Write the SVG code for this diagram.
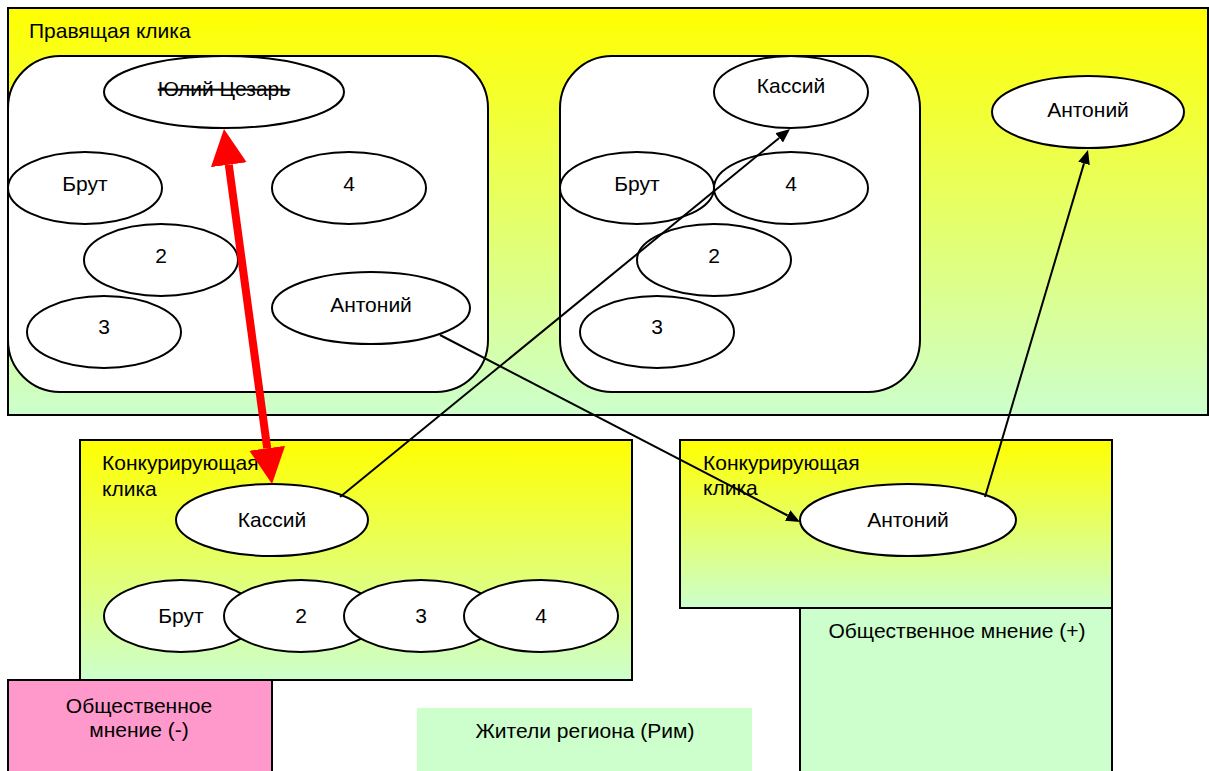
<svg xmlns="http://www.w3.org/2000/svg" width="1209" height="771" viewBox="0 0 1209 771">
<style>
text{font-family:"Liberation Sans",Arial,sans-serif;font-size:21px;fill:#000}
.c{text-anchor:middle}
.box{stroke:#000;stroke-width:2}
.ell{fill:#fff;stroke:#000;stroke-width:2}
.rr{fill:#fff;stroke:#000;stroke-width:2}
.blk{stroke:#000;stroke-width:2;fill:none}
.red{stroke:#ff0000;stroke-width:8;fill:none}
</style>
<defs>
<linearGradient id="g" x1="0" y1="0" x2="0" y2="1">
<stop offset="0" stop-color="#ffff00"/>
<stop offset="1" stop-color="#ccffcc"/>
</linearGradient>
<marker id="ra" markerUnits="userSpaceOnUse" viewBox="0 0 36 36" markerWidth="36" markerHeight="36" refX="0" refY="18" orient="auto-start-reverse">
<path d="M0,0 L36,18 L0,36 z" fill="#ff0000"/>
</marker>
<marker id="ba" markerUnits="userSpaceOnUse" viewBox="0 0 14 12" markerWidth="14" markerHeight="12" refX="0" refY="6" orient="auto">
<path d="M0,0 L14,6 L0,12 z" fill="#000"/>
</marker>
</defs>

<g id="ruling-clique">
<rect class="box" x="8" y="8" width="1200" height="407" fill="url(#g)"/>
<text x="29" y="38">Правящая клика</text>
</g>

<g id="group-left">
<rect class="rr" x="8" y="56" width="480" height="336" rx="52" ry="52"/>
</g>
<g id="caesar"><ellipse class="ell" cx="224" cy="92" rx="120" ry="36"/><text class="c" x="224" y="96" text-decoration="line-through">Юлий Цезарь</text></g>
<g id="brutus-1"><ellipse class="ell" cx="85" cy="188" rx="77" ry="36"/><text class="c" x="85" y="191">Брут</text></g>
<g id="n4-1"><ellipse class="ell" cx="349" cy="188" rx="77" ry="36"/><text class="c" x="349" y="191">4</text></g>
<g id="n2-1"><ellipse class="ell" cx="161" cy="260" rx="77" ry="36"/><text class="c" x="161" y="263">2</text></g>
<g id="antony-1"><ellipse class="ell" cx="371" cy="308" rx="99" ry="36"/><text class="c" x="371" y="312">Антоний</text></g>
<g id="n3-1"><ellipse class="ell" cx="104" cy="332" rx="77" ry="36"/><text class="c" x="104" y="334">3</text></g>

<g id="group-right">
<rect class="rr" x="560" y="56" width="360" height="336" rx="52" ry="52"/>
</g>
<g id="cassius-2"><ellipse class="ell" cx="791" cy="92" rx="77" ry="36"/><text class="c" x="791" y="93">Кассий</text></g>
<g id="brutus-2"><ellipse class="ell" cx="637" cy="188" rx="77" ry="36"/><text class="c" x="637" y="191">Брут</text></g>
<g id="n4-2"><ellipse class="ell" cx="791" cy="188" rx="77" ry="36"/><text class="c" x="791" y="191">4</text></g>
<g id="n2-2"><ellipse class="ell" cx="714" cy="260" rx="77" ry="36"/><text class="c" x="714" y="263">2</text></g>
<g id="n3-2"><ellipse class="ell" cx="657" cy="332" rx="77" ry="36"/><text class="c" x="657" y="334">3</text></g>

<g id="antony-top"><ellipse class="ell" cx="1088" cy="112" rx="96" ry="36"/><text class="c" x="1088" y="117">Антоний</text></g>

<g id="rival-1">
<rect class="box" x="80" y="440" width="552" height="240" fill="url(#g)"/>
<text x="102" y="470">Конкурирующая</text>
<text x="102" y="496">клика</text>
</g>
<g id="cassius-3"><ellipse class="ell" cx="272" cy="520" rx="96" ry="36"/><text class="c" x="272" y="527">Кассий</text></g>
<g id="brutus-3"><ellipse class="ell" cx="181" cy="616" rx="77" ry="36"/><text class="c" x="181" y="623">Брут</text></g>
<g id="n2-3"><ellipse class="ell" cx="301" cy="616" rx="77" ry="36"/><text class="c" x="301" y="623">2</text></g>
<g id="n3-3"><ellipse class="ell" cx="421" cy="616" rx="77" ry="36"/><text class="c" x="421" y="623">3</text></g>
<g id="n4-3"><ellipse class="ell" cx="541" cy="616" rx="77" ry="36"/><text class="c" x="541" y="623">4</text></g>

<g id="rival-2">
<rect class="box" x="680" y="440" width="432" height="168" fill="url(#g)"/>
<text x="703" y="470">Конкурирующая</text>
<text x="703" y="495">клика</text>
</g>
<g id="antony-3"><ellipse class="ell" cx="908" cy="520" rx="108" ry="36"/><text class="c" x="908" y="527">Антоний</text></g>

<g id="opinion-plus">
<rect class="box" x="800" y="608" width="312" height="170" fill="#ccffcc"/>
<text class="c" x="957" y="638">Общественное мнение (+)</text>
</g>
<g id="opinion-minus">
<rect class="box" x="8" y="680" width="264" height="100" fill="#ff99cc"/>
<text class="c" x="139" y="713">Общественное</text>
<text class="c" x="139" y="737">мнение (-)</text>
</g>
<g id="residents">
<rect x="417" y="708" width="335" height="70" fill="#ccffcc"/>
<text class="c" x="585" y="738">Жители региона (Рим)</text>
</g>

<g id="connectors">
<line class="red" x1="228.8" y1="164.7" x2="267.2" y2="448.3" marker-start="url(#ra)" marker-end="url(#ra)"/>
<line class="blk" x1="340" y1="497" x2="779.2" y2="137.9" marker-end="url(#ba)"/>
<line class="blk" x1="440" y1="335" x2="787.6" y2="515.5" marker-end="url(#ba)"/>
<line class="blk" x1="985" y1="497" x2="1084" y2="163.4" marker-end="url(#ba)"/>
</g>
</svg>
